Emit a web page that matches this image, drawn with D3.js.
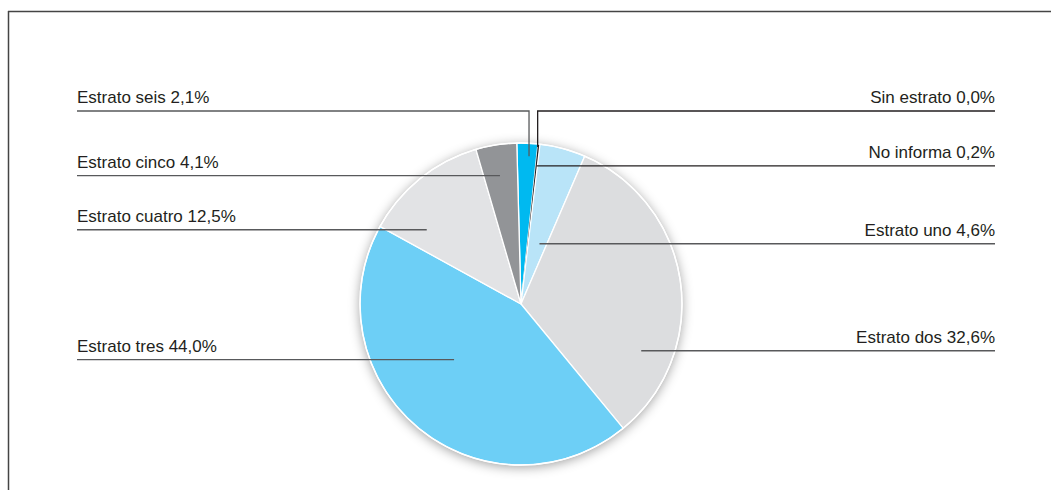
<!DOCTYPE html>
<html>
<head>
<meta charset="utf-8">
<script src="https://cdn.jsdelivr.net/npm/d3@7"></script>
<style>
  body { margin: 0; background: #fff; }
  svg { display: block; }
  text { font-family: "Liberation Sans", Arial, sans-serif; font-size: 17px; fill: #231f20; }
</style>
</head>
<body>
<svg id="chart" width="1051" height="490"></svg>
<script>
// slices in drawing order, clockwise from the top
const categories = ["Estrato seis", "Sin estrato", "No informa", "Estrato uno", "Estrato dos", "Estrato tres", "Estrato cuatro", "Estrato cinco"];
const values = [2.1, 0.0, 0.2, 4.6, 32.6, 44.0, 12.5, 4.1];
const colors = ["#00b9f0", "#231f20", "#231f20", "#b9e4f8", "#dcdddf", "#6dcff6", "#e2e3e5", "#929497"];

// leader layout: anchor radius, position within slice, side, elbow level
const leaderR = [148, 158, 139, 63, 129, 87, 120, 130];
const leaderF = [0.61, 0.5, 0.5, 0.62, 0.75, 0.567, 0.21, 0.47];
const leaderSide = ["left", "right", "right", "right", "right", "left", "left", "left"];
const leaderElbow = [111, 111, null, null, null, null, null, null];

const svg = d3.select("#chart");
const cx = 521, cy = 304, radius = 161;
const leftX = 77, rightX = 995;

// frame
svg.append("line").attr("x1", 8).attr("x2", 1051).attr("y1", 11.5).attr("y2", 11.5)
  .attr("stroke", "#444").attr("stroke-width", 1.5);
svg.append("line").attr("x1", 8.5).attr("x2", 8.5).attr("y1", 11).attr("y2", 490)
  .attr("stroke", "#444").attr("stroke-width", 1.5);

const defs = svg.append("defs");
const f = defs.append("filter").attr("id", "shadow")
  .attr("x", "-20%").attr("y", "-20%").attr("width", "140%").attr("height", "140%");
f.append("feDropShadow").attr("dx", 0).attr("dy", 2).attr("stdDeviation", 6)
  .attr("flood-color", "#000").attr("flood-opacity", 0.4);

const startA = -1.5 * Math.PI / 180;
const pie = d3.pie().sort(null).value(d => d)
  .startAngle(startA).endAngle(startA + 2 * Math.PI);
const arcs = pie(values);
const arc = d3.arc().innerRadius(0).outerRadius(radius);

const g = svg.append("g").attr("transform", `translate(${cx},${cy})`);

g.append("circle").attr("r", radius).attr("fill", "#fff").attr("filter", "url(#shadow)");

g.selectAll("path.slice")
  .data(arcs)
  .enter().append("path")
    .attr("class", "slice")
    .attr("d", arc)
    .attr("fill", (d, i) => colors[i])
    .attr("stroke", (d, i) => d.value < 0.5 ? "none" : "#fff")
    .attr("stroke-width", 1.3);

g.append("circle").attr("r", radius).attr("fill", "none")
  .attr("stroke", "#fff").attr("stroke-width", 1.5);

const fmt = v => v.toFixed(1).replace(".", ",") + "%";

const anchor = (d, i) => {
  const a = d.startAngle + leaderF[i] * (d.endAngle - d.startAngle);
  return [cx + leaderR[i] * Math.sin(a), cy - leaderR[i] * Math.cos(a)];
};

const lab = svg.append("g");
arcs.forEach((d, i) => {
  const [ax, ay] = anchor(d, i);
  const y = leaderElbow[i] != null ? leaderElbow[i] : ay;
  const dark = i === 1 || i === 2;
  const pts = leaderSide[i] === "left"
    ? [[leftX, y], [ax, y], [ax, ay]]
    : [[rightX, y], [ax, y], [ax, ay]];
  lab.append("path")
    .attr("d", d3.line()(pts))
    .attr("fill", "none")
    .attr("stroke", dark ? "#231f20" : "#58595b")
    .attr("stroke-width", 1.3);
  lab.append("text")
    .attr("x", leaderSide[i] === "left" ? leftX : rightX)
    .attr("y", y - 8)
    .attr("text-anchor", leaderSide[i] === "left" ? "start" : "end")
    .text(categories[i] + " " + fmt(values[i]));
});
</script>
</body>
</html>
